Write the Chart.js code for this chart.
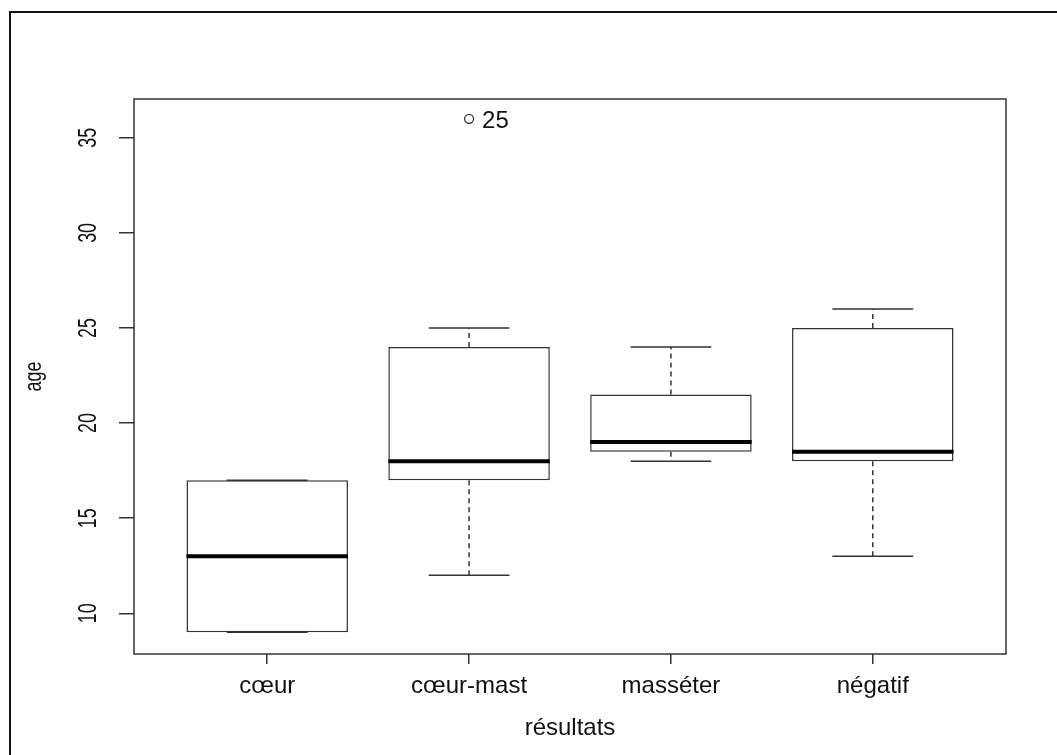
<!DOCTYPE html>
<html>
<head>
<meta charset="utf-8">
<script src="https://cdn.jsdelivr.net/npm/chart.js@4.4.1/dist/chart.umd.min.js"></script>
<style>
    html, body { margin: 0; padding: 0; background: #ffffff; }
    canvas { display: block; }
</style>
</head>
<body>
<canvas id="boxChart" width="1057" height="755"></canvas>
<script>
// Boxplot data
const categories = ['cœur', 'cœur-mast', 'masséter', 'négatif'];
const whiskerLow = [9, 12, 18, 13];
const quartileLow = [9, 17, 18.5, 18];
const medians = [13, 18, 19, 18.5];
const quartileHigh = [17, 24, 21.5, 25];
const whiskerHigh = [17, 25, 24, 26];
const outlierGroup = [2];
const outlierValues = [36];
const outlierLabels = ['25'];
const yTicks = [10, 15, 20, 25, 30, 35];
const xTitle = 'résultats';
const yTitle = 'age';

const ink = '#111111';
const lineColor = '#333333';
const fontName = '"Liberation Sans", Arial, sans-serif';

// draws medians, whiskers, caps, outlier labels and all the text
const boxParts = {
    id: 'boxParts',
    afterDatasetsDraw(chart) {
        const ctx = chart.ctx;
        const y = chart.scales.y;
        const boxes = chart.getDatasetMeta(0).data;
        ctx.save();
        boxes.forEach((bar, i) => {
            const cx = bar.x;
            const half = bar.width / 2;
            const cap = bar.width / 4;
            // whiskers
            ctx.strokeStyle = lineColor;
            ctx.lineWidth = 1.5;
            ctx.setLineDash([5, 4]);
            ctx.beginPath();
            ctx.moveTo(cx, y.getPixelForValue(quartileHigh[i]));
            ctx.lineTo(cx, y.getPixelForValue(whiskerHigh[i]));
            ctx.moveTo(cx, y.getPixelForValue(quartileLow[i]));
            ctx.lineTo(cx, y.getPixelForValue(whiskerLow[i]));
            ctx.stroke();
            ctx.setLineDash([]);
            ctx.beginPath();
            ctx.moveTo(cx - cap, y.getPixelForValue(whiskerHigh[i]));
            ctx.lineTo(cx + cap, y.getPixelForValue(whiskerHigh[i]));
            ctx.moveTo(cx - cap, y.getPixelForValue(whiskerLow[i]));
            ctx.lineTo(cx + cap, y.getPixelForValue(whiskerLow[i]));
            ctx.stroke();
            // median
            ctx.strokeStyle = '#000000';
            ctx.lineWidth = 4;
            ctx.beginPath();
            ctx.moveTo(cx - half, y.getPixelForValue(medians[i]));
            ctx.lineTo(cx + half, y.getPixelForValue(medians[i]));
            ctx.stroke();
        });

        // outlier labels
        ctx.fillStyle = ink;
        ctx.font = '24px ' + fontName;
        ctx.textAlign = 'left';
        ctx.textBaseline = 'middle';
        chart.getDatasetMeta(1).data.forEach((pt, i) => {
            ctx.fillText(outlierLabels[i], pt.x + 13, pt.y + 3);
        });
        ctx.restore();
    },
    afterDraw(chart) {
        const ctx = chart.ctx;
        const area = chart.chartArea;
        const x = chart.scales.x;
        const y = chart.scales.y;
        ctx.save();
        // plot frame
        ctx.strokeStyle = lineColor;
        ctx.lineWidth = 1.5;
        ctx.strokeRect(area.left, area.top, area.right - area.left, area.bottom - area.top);
        // outer frame
        ctx.strokeStyle = ink;
        ctx.lineWidth = 2;
        ctx.strokeRect(10, 12, 1200, 900);

        ctx.fillStyle = ink;
        // x labels
        ctx.font = '24px ' + fontName;
        ctx.textAlign = 'center';
        ctx.textBaseline = 'alphabetic';
        categories.forEach((c, i) => {
            ctx.fillText(c, x.getPixelForValue(i + 1), 693);
        });
        ctx.fillText(xTitle, (area.left + area.right) / 2, 735);

        // rotated y labels, R stretches them a bit
        ctx.font = '17px ' + fontName;
        ctx.textBaseline = 'middle';
        yTicks.forEach(v => {
            ctx.save();
            ctx.translate(89, y.getPixelForValue(v));
            ctx.rotate(-Math.PI / 2);
            ctx.scale(1.05, 1.5);
            ctx.fillText(String(v), 0, 0);
            ctx.restore();
        });
        ctx.save();
        ctx.translate(34, (area.top + area.bottom) / 2);
        ctx.rotate(-Math.PI / 2);
        ctx.scale(1.05, 1.4);
        ctx.fillText(yTitle, 0, 0);
        ctx.restore();
        ctx.restore();
    }
};

document.addEventListener('DOMContentLoaded', function() {
    const ctx = document.getElementById('boxChart').getContext('2d');
    new Chart(ctx, {
        type: 'bar',
        data: {
            datasets: [{
                type: 'bar',
                data: categories.map((c, i) => ({ x: i + 1, y: [quartileLow[i], quartileHigh[i]] })),
                backgroundColor: '#ffffff',
                borderColor: lineColor,
                borderWidth: 1.5,
                borderSkipped: false,
                categoryPercentage: 1,
                barPercentage: 0.8
            }, {
                type: 'scatter',
                data: outlierGroup.map((g, i) => ({ x: g, y: outlierValues[i] })),
                pointStyle: 'circle',
                pointRadius: 4.5,
                backgroundColor: 'rgba(0,0,0,0)',
                borderColor: lineColor,
                borderWidth: 1.3
            }]
        },
        options: {
            responsive: false,
            animation: false,
            layout: { padding: { left: 0, top: 99, right: 51, bottom: 0 } },
            plugins: {
                legend: { display: false },
                tooltip: { enabled: false }
            },
            scales: {
                x: {
                    type: 'linear',
                    min: 0.34,
                    max: 4.66,
                    offset: false,
                    afterBuildTicks: scale => { scale.ticks = categories.map((c, i) => ({ value: i + 1 })); },
                    afterFit: scale => { scale.height = 101; },
                    ticks: { display: false },
                    grid: { offset: false, drawOnChartArea: false, drawTicks: true, tickLength: 10, color: lineColor, lineWidth: 1.5 },
                    border: { display: false }
                },
                y: {
                    min: 7.86,
                    max: 37.04,
                    afterBuildTicks: scale => { scale.ticks = yTicks.map(v => ({ value: v })); },
                    afterFit: scale => { scale.width = 134; },
                    ticks: { display: false },
                    grid: { drawOnChartArea: false, drawTicks: true, tickLength: 15, color: lineColor, lineWidth: 1.5 },
                    border: { display: false }
                }
            }
        },
        plugins: [boxParts]
    });
});
</script>
</body>
</html>
